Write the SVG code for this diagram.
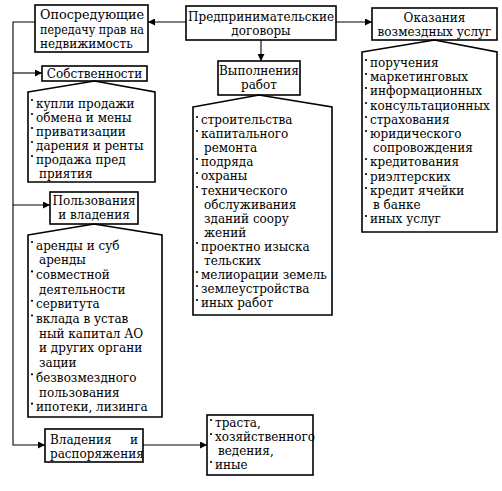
<svg xmlns="http://www.w3.org/2000/svg" width="502" height="491" viewBox="0 0 502 491">
<defs>
<marker id="ah" viewBox="0 0 10 10" refX="10" refY="5" markerWidth="7" markerHeight="7" markerUnits="userSpaceOnUse" orient="auto">
<path d="M0,0 L10,5 L0,10 z" fill="#000"/>
</marker>
<style>
.box{fill:#fff;stroke:#000;stroke-width:1.6}
.con{fill:none;stroke:#000;stroke-width:1.1}
text{font-family:"DejaVu Serif","Liberation Serif",serif;font-size:12px;fill:#000}
.c{text-anchor:middle}
.b{fill:#000}
</style>
</defs>
<rect width="502" height="491" fill="#fff"/>

<g id="connectors">
<path class="con" d="M186,22 H148" marker-end="url(#ah)"/>
<path class="con" d="M336,22 H372" marker-end="url(#ah)"/>
<path class="con" d="M261,40 V61" marker-end="url(#ah)"/>
<path class="con" d="M35,22 H13 V445 H45" marker-end="url(#ah)"/>
<path class="con" d="M13,73 H42" marker-end="url(#ah)"/>
<path class="con" d="M13,205 H50" marker-end="url(#ah)"/>
<path class="con" d="M143,445 H207" marker-end="url(#ah)"/>
</g>

<g id="n-predpr">
<rect class="box" x="186" y="6" width="150" height="34"/>
<text class="c" x="261" y="21">Предпринимательские</text>
<text class="c" x="261" y="35">договоры</text>
</g>

<g id="n-oposr">
<rect class="box" x="35" y="5" width="113" height="47"/>
<text x="40" y="19" textLength="104" lengthAdjust="spacingAndGlyphs">Опосредующие</text>
<text x="40" y="34" textLength="104" lengthAdjust="spacingAndGlyphs">передачу прав на</text>
<text x="40" y="48">недвижимость</text>
</g>

<g id="n-okaz">
<rect class="box" x="372" y="8" width="125" height="32"/>
<text class="c" x="434.5" y="22">Оказания</text>
<text class="c" x="434.5" y="36">возмездных услуг</text>
</g>

<g id="n-okaz-list">
<polygon class="box" points="362,52 434.5,40 497,52 497,232 362,232"/>
<g class="b"><circle cx="366" cy="60" r="1.1"/><circle cx="366" cy="74" r="1.1"/><circle cx="366" cy="88" r="1.1"/><circle cx="366" cy="103" r="1.1"/><circle cx="366" cy="117" r="1.1"/><circle cx="366" cy="131" r="1.1"/><circle cx="366" cy="159" r="1.1"/><circle cx="366" cy="174" r="1.1"/><circle cx="366" cy="188" r="1.1"/><circle cx="366" cy="216" r="1.1"/></g>
<text x="370" y="67">поручения</text>
<text x="370" y="81.2">маркетинговых</text>
<text x="370" y="95.4">информационных</text>
<text x="370" y="109.6">консультационных</text>
<text x="370" y="123.8">страхования</text>
<text x="370" y="138">юридического</text>
<text x="373" y="152.2">сопровождения</text>
<text x="370" y="166.4">кредитования</text>
<text x="370" y="180.6">риэлтерских</text>
<text x="370" y="194.8">кредит ячейки</text>
<text x="373" y="209">в банке</text>
<text x="370" y="223.2">иных услуг</text>
</g>

<g id="n-vypoln">
<rect class="box" x="218" y="61" width="82" height="34"/>
<text class="c" x="259" y="75">Выполнения</text>
<text class="c" x="259" y="89">работ</text>
</g>

<g id="n-vypoln-list">
<polygon class="box" points="193,107 259,95 332,107 332,315 193,315"/>
<g class="b"><circle cx="197" cy="117" r="1.1"/><circle cx="197" cy="131" r="1.1"/><circle cx="197" cy="159" r="1.1"/><circle cx="197" cy="173" r="1.1"/><circle cx="197" cy="187" r="1.1"/><circle cx="197" cy="243" r="1.1"/><circle cx="197" cy="272" r="1.1"/><circle cx="197" cy="286" r="1.1"/><circle cx="197" cy="300" r="1.1"/></g>
<text x="201" y="124">строительства</text>
<text x="201" y="138.1">капитального</text>
<text x="204" y="152.2">ремонта</text>
<text x="201" y="166.3">подряда</text>
<text x="201" y="180.4">охраны</text>
<text x="201" y="194.5">технического</text>
<text x="204" y="208.6">обслуживания</text>
<text x="204" y="222.7">зданий соору</text>
<text x="204" y="236.8">жений</text>
<text x="201" y="250.9">проектно изыска</text>
<text x="204" y="265">тельских</text>
<text x="201" y="279.1">мелиорации земель</text>
<text x="201" y="293.2">землеустройства</text>
<text x="201" y="307.3">иных работ</text>
</g>

<g id="n-sobstv">
<rect class="box" x="42" y="66" width="105" height="15"/>
<text class="c" x="94.5" y="78">Собственности</text>
</g>

<g id="n-sobstv-list">
<polygon class="box" points="28,92 94.5,81 155,92 155,182 28,182"/>
<g class="b"><circle cx="32" cy="100" r="1.1"/><circle cx="32" cy="114" r="1.1"/><circle cx="32" cy="128" r="1.1"/><circle cx="32" cy="142" r="1.1"/><circle cx="32" cy="156" r="1.1"/></g>
<text x="36" y="107.5">купли продажи</text>
<text x="36" y="121.5">обмена и мены</text>
<text x="36" y="135.5">приватизации</text>
<text x="36" y="149.5">дарения и ренты</text>
<text x="36" y="163.5">продажа пред</text>
<text x="39" y="177.5">приятия</text>
</g>

<g id="n-polz">
<rect class="box" x="50" y="192" width="88" height="32"/>
<text class="c" x="94" y="205">Пользования</text>
<text class="c" x="94" y="219">и владения</text>
</g>

<g id="n-polz-list">
<polygon class="box" points="28,235 94,224 162,235 162,417 28,417"/>
<g class="b"><circle cx="32" cy="242" r="1.1"/><circle cx="32" cy="271.4" r="1.1"/><circle cx="32" cy="300.8" r="1.1"/><circle cx="32" cy="315.5" r="1.1"/><circle cx="32" cy="374.3" r="1.1"/><circle cx="32" cy="403.7" r="1.1"/></g>
<text x="36" y="249.5">аренды и суб</text>
<text x="39" y="264.2">аренды</text>
<text x="36" y="278.9">совместной</text>
<text x="39" y="293.6">деятельности</text>
<text x="36" y="308.3">сервитута</text>
<text x="36" y="323">вклада в устав</text>
<text x="39" y="337.7">ный капитал АО</text>
<text x="39" y="352.4">и других органи</text>
<text x="39" y="367.1">зации</text>
<text x="36" y="381.8">безвозмездного</text>
<text x="39" y="396.5">пользования</text>
<text x="36" y="411.2">ипотеки, лизинга</text>
</g>

<g id="n-vlad">
<rect class="box" x="45" y="429" width="98" height="33"/>
<text x="50" y="444">Владения</text>
<text x="138" y="444" text-anchor="end">и</text>
<text x="50" y="458">распоряжения</text>
</g>

<g id="n-trast">
<rect class="box" x="207" y="415" width="106" height="60"/>
<g class="b"><circle cx="211" cy="420" r="1.1"/><circle cx="211" cy="434" r="1.1"/><circle cx="211" cy="462" r="1.1"/></g>
<text x="215" y="427">траста,</text>
<text x="215" y="441">хозяйственного</text>
<text x="218" y="455">ведения,</text>
<text x="215" y="469">иные</text>
</g>
</svg>
